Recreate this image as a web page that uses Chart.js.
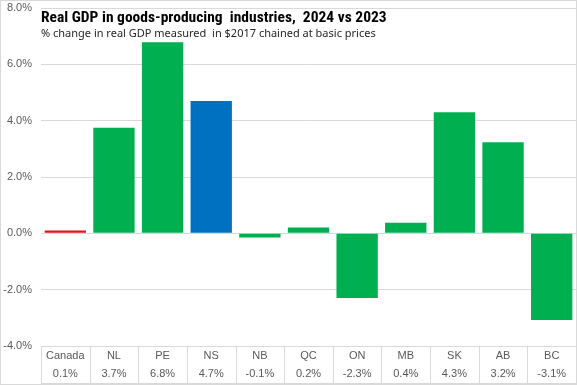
<!DOCTYPE html>
<html>
<head>
<meta charset="utf-8">
<script src="https://cdn.jsdelivr.net/npm/chart.js@4"></script>
<style>
html,body{margin:0;padding:0;background:#fff;}
#wrap{width:577px;height:385px;position:relative;}
</style>
</head>
<body>
<div id="wrap"><canvas id="c" width="577" height="385"></canvas></div>
<script>
const categories = ["Canada","NL","PE","NS","NB","QC","ON","MB","SK","AB","BC"];
const gdpChange = [0.1, 3.75, 6.78, 4.7, -0.15, 0.21, -2.3, 0.38, 4.3, 3.23, -3.08];
const tableValues = ["0.1%","3.7%","6.8%","4.7%","-0.1%","0.2%","-2.3%","0.4%","4.3%","3.2%","-3.1%"];
const yTicks = [-4, -2, 0, 2, 4, 6, 8];
const titleText = "Real GDP in goods-producing  industries,  2024 vs 2023";
const subtitleText = "% change in real GDP measured  in $2017 chained at basic prices";

const colorFor = (cat) => cat === "Canada" ? "#E8101A" : (cat === "NS" ? "#0070C0" : "#00B050");
const FONT = '"Liberation Sans", Arial, sans-serif';
const TITLE_FONT = '"Liberation Sans Narrow", "Roboto Condensed", "Liberation Sans", sans-serif';
const SUB_FONT = '"Noto Sans", "Liberation Sans", sans-serif';
const GRID = "#d9d9d9";
const TXT = "#595959";

const tablePlugin = {
  id: "tablePlugin",
  afterDraw(chart) {
    const ctx = chart.ctx;
    const x = chart.scales.x;
    const area = chart.chartArea;
    const top = area.bottom;
    const bottom = 383.5;
    ctx.save();
    ctx.strokeStyle = GRID;
    ctx.lineWidth = 1;
    const n = categories.length;
    const step = (area.right - area.left) / n;
    for (let i = 0; i <= n; i++) {
      const px = Math.round(area.left + i * step) + 0.5;
      ctx.beginPath();
      ctx.moveTo(px, top);
      ctx.lineTo(px, bottom);
      ctx.stroke();
    }
    ctx.beginPath();
    ctx.moveTo(area.left, bottom);
    ctx.lineTo(area.right, bottom);
    ctx.stroke();
    ctx.fillStyle = TXT;
    ctx.font = "11px " + FONT;
    ctx.textAlign = "center";
    ctx.textBaseline = "middle";
    categories.forEach((c, i) => {
      const cx = x.getPixelForValue(i);
      ctx.fillText(c, cx, top + 10);
      ctx.fillText(tableValues[i], cx, top + 28);
    });
    ctx.textAlign = "left";
    ctx.fillStyle = "#000";
    let size = 18;
    ctx.font = "bold " + size + "px " + TITLE_FONT;
    while (ctx.measureText(titleText).width > 351 && size > 10) {
      size -= 0.25;
      ctx.font = "bold " + size + "px " + TITLE_FONT;
    }
    ctx.fillText(titleText, 41, 18);
    let s2 = 13;
    ctx.font = s2 + "px " + SUB_FONT;
    while (ctx.measureText(subtitleText).width > 340 && s2 > 8) {
      s2 -= 0.25;
      ctx.font = s2 + "px " + SUB_FONT;
    }
    ctx.fillStyle = "#262626";
    ctx.fillText(subtitleText, 41, 34);
    ctx.strokeStyle = GRID;
    ctx.strokeRect(0.5, 0.5, chart.width - 1, chart.height - 1);
    ctx.restore();
  }
};

new Chart(document.getElementById("c"), {
  type: "bar",
  data: {
    labels: categories,
    datasets: [{
      data: gdpChange,
      backgroundColor: categories.map(colorFor),
      borderWidth: 0,
      barPercentage: 0.85,
      categoryPercentage: 1.0
    }]
  },
  options: {
    responsive: false,
    animation: false,
    devicePixelRatio: 1,
    layout: { padding: { top: 8, bottom: 31, left: 0, right: 1 } },
    plugins: { legend: { display: false }, tooltip: { enabled: false }, title: { display: false } },
    scales: {
      x: {
        ticks: { display: false },
        grid: { display: false },
        border: { display: false }
      },
      y: {
        min: -4, max: 8,
        afterBuildTicks(scale) { scale.ticks = yTicks.map(v => ({ value: v })); },
        afterFit(scale) { scale.width = 41; scale.paddingTop = 0; scale.paddingBottom = 0; },
        ticks: {
          color: TXT,
          font: { family: FONT, size: 11 },
          padding: 9,
          callback: v => v.toFixed(1) + "%"
        },
        grid: { color: GRID, drawTicks: false, lineWidth: 1 },
        border: { display: false }
      }
    }
  },
  plugins: [tablePlugin]
});
</script>
</body>
</html>
